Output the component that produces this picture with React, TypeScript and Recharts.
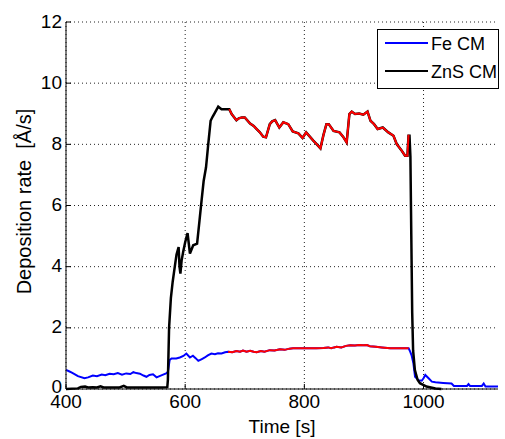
import React from "react";
import { LineChart, Line, XAxis, YAxis, CartesianGrid, Legend } from "recharts";

// Fe CM (blue) – time [s] and deposition rate [Å/s]
const feTime = [400, 405, 409, 415, 420, 431, 437, 445, 452, 460, 466, 473, 480, 487, 494, 501, 508, 513, 518, 524, 530, 535, 540, 546, 552, 557, 563, 568, 571, 574, 577, 585, 591, 597, 602, 608, 613, 618, 622, 628, 633, 638, 644, 650, 655, 661, 667, 672, 679, 686, 692, 697, 703, 709, 715, 720, 727, 733, 742, 750, 759, 767, 775, 781, 800, 820, 832, 840, 845, 850, 854, 862, 870, 877, 885, 892, 899, 905, 910, 920, 930, 944, 955, 965, 975, 977.6, 980, 983, 985.8, 991.5, 997, 1000, 1003, 1008.5, 1014, 1020, 1033, 1047, 1051, 1065, 1073, 1075.5, 1078, 1098, 1101, 1104, 1125];
const feRate = [0.62, 0.58, 0.54, 0.48, 0.42, 0.35, 0.38, 0.44, 0.42, 0.47, 0.45, 0.5, 0.48, 0.52, 0.47, 0.51, 0.49, 0.55, 0.52, 0.5, 0.44, 0.4, 0.46, 0.48, 0.38, 0.42, 0.47, 0.51, 0.56, 0.95, 1.0, 1.0, 1.03, 1.08, 1.16, 1.03, 1.09, 1.0, 0.92, 0.98, 1.03, 1.1, 1.16, 1.14, 1.17, 1.16, 1.2, 1.22, 1.2, 1.24, 1.22, 1.26, 1.22, 1.25, 1.22, 1.2, 1.24, 1.22, 1.27, 1.26, 1.3, 1.28, 1.32, 1.33, 1.33, 1.33, 1.34, 1.36, 1.33, 1.36, 1.38, 1.36, 1.41, 1.43, 1.42, 1.44, 1.43, 1.44, 1.4, 1.38, 1.36, 1.33, 1.33, 1.33, 1.33, 1.22, 1.1, 0.84, 0.4, 0.29, 0.27, 0.35, 0.46, 0.35, 0.24, 0.22, 0.2, 0.18, 0.1, 0.1, 0.1, 0.16, 0.1, 0.1, 0.18, 0.08, 0.08];
const feRedRange = [672, 975];

// ZnS CM (black)
const znsTime = [400, 420, 425, 432, 437, 445, 452, 458, 463, 480, 490, 497, 502, 540, 560, 570, 571, 573, 576, 579, 581, 584, 585.5, 589, 590.5, 592, 594, 596.6, 600, 604, 608, 613.5, 620, 624, 627.5, 631, 635, 638.7, 642.7, 646, 650, 655.5, 661, 674, 678, 686, 690, 695, 700, 709, 715, 720, 725, 731, 735.6, 742, 746, 751, 758, 764.7, 773, 780.5, 790, 797, 803, 815, 821, 827, 832, 837, 841, 849, 859, 865, 871, 875.6, 879.5, 885, 892, 899, 906, 911, 917, 923, 931.6, 941, 949.6, 955, 963.5, 969, 973, 974.8, 976.5, 978, 979.5, 981, 982.5, 985.5, 990, 994, 1005, 1020, 1030];
const znsRate = [0, 0.02, 0.07, 0.08, 0.05, 0.06, 0.05, 0.09, 0.05, 0.05, 0.05, 0.1, 0.05, 0.05, 0.05, 0.06, 0.3, 2.0, 2.97, 3.5, 3.78, 4.2, 4.4, 4.64, 4.0, 3.77, 4.2, 4.48, 4.8, 5.1, 4.43, 4.7, 4.75, 5.5, 6.16, 6.8, 7.25, 8.0, 8.77, 8.9, 9.04, 9.23, 9.15, 9.15, 8.99, 8.79, 8.85, 8.88, 8.88, 8.68, 8.6, 8.5, 8.4, 8.25, 8.23, 8.66, 8.75, 8.79, 8.55, 8.72, 8.66, 8.42, 8.36, 8.21, 8.39, 8.12, 8.0, 7.87, 8.3, 8.66, 8.66, 8.44, 8.39, 8.25, 8.06, 8.99, 9.07, 8.99, 9.01, 8.97, 9.07, 8.77, 8.66, 8.5, 8.55, 8.39, 8.28, 8.01, 7.79, 7.63, 7.63, 8.28, 8.28, 7.6, 5.0, 2.5, 1.27, 0.62, 0.3, 0.19, 0.08, 0.02, 0];
const znsRedRange = [674, 976.5];

const xTicks = [400, 600, 800, 1000];
const yTicks = [0, 2, 4, 6, 8, 10, 12];
const seriesNames = ["Fe CM", "ZnS CM"];
const seriesColors = ["#0000ff", "#000000"];

const toRows = (ts: number[], vs: number[]) => ts.map((t, i) => ({ t, v: vs[i] }));
const inRange = (rows: { t: number; v: number }[], r: number[]) => rows.filter((p) => p.t >= r[0] && p.t <= r[1]);

const feRows = toRows(feTime, feRate);
const znsRows = toRows(znsTime, znsRate);
const feRed = inRange(feRows, feRedRange);
const znsRed = inRange(znsRows, znsRedRange);

const FONT = "'Liberation Sans', Arial, Helvetica, sans-serif";

const XTick = (props: any) => {
  const { x, y, payload } = props;
  return (
    <g>
      <line x1={x} x2={x} y1={y} y2={y - 5} stroke="#000" strokeWidth={1} />
      <text x={x} y={y + 12} textAnchor="middle" dominantBaseline="central" fontSize={19} fontFamily={FONT} fill="#000">
        {payload.value}
      </text>
    </g>
  );
};

const YTick = (props: any) => {
  const { x, y, payload } = props;
  return (
    <g>
      <line x1={x} x2={x + 5} y1={y} y2={y} stroke="#000" strokeWidth={1} />
      <text x={x - 4} y={payload.value === 0 ? y - 3 : y - 1} textAnchor="end" dominantBaseline="central" fontSize={19} fontFamily={FONT} fill="#000">
        {payload.value}
      </text>
    </g>
  );
};

const YLabel = (props: any) => {
  const { viewBox } = props;
  const cy = viewBox.y + viewBox.height / 2 - 4;
  const cx = 24;
  return (
    <text x={cx} y={cy} transform={`rotate(-90 ${cx} ${cy})`} textAnchor="middle" dominantBaseline="central" fontSize={20} fontFamily={FONT} fill="#000">
      {"Deposition rate\u00a0 [Å/s]"}
    </text>
  );
};

const renderLegend = () => (
  <svg width={122} height={60} style={{ display: "block" }}>
    <rect x={0.5} y={0.5} width={121} height={59} fill="#fff" stroke="#000" strokeWidth={1} />
    {seriesNames.map((n, i) => (
      <g key={n}>
        <line x1={8} x2={51} y1={14 + i * 28} y2={14 + i * 28} stroke={seriesColors[i]} strokeWidth={2} />
        <text x={54} y={15 + i * 28} dominantBaseline="central" fontSize={18} fontFamily={FONT} fill="#000">
          {n}
        </text>
      </g>
    ))}
  </svg>
);

export default function App() {
  return (
    <div style={{ position: "absolute", left: 0, top: 0, background: "#fff" }}>
      <LineChart width={505} height={439} margin={{ top: 22, right: 7, bottom: 0, left: 0 }}>
        <CartesianGrid stroke="#222" strokeDasharray="1 3" strokeWidth={1} horizontalValues={yTicks} verticalValues={xTicks} />
        <XAxis
          type="number"
          dataKey="t"
          domain={[400, 1125]}
          ticks={xTicks}
          allowDataOverflow
          height={50}
          tickSize={0}
          tickMargin={0}
          tickLine={false}
          axisLine={{ stroke: "#000", strokeWidth: 1 }}
          tick={<XTick />}
          interval={0}
          label={{ value: "Time [s]", position: "insideBottom", offset: 6, fontSize: 19, fontFamily: FONT, fill: "#000" }}
        />
        <YAxis
          type="number"
          domain={[0, 12]}
          ticks={yTicks}
          width={66}
          tickSize={0}
          tickMargin={0}
          tickLine={false}
          axisLine={{ stroke: "#000", strokeWidth: 1 }}
          tick={<YTick />}
          interval={0}
          label={<YLabel />}
        />
        <Legend
          layout="horizontal"
          verticalAlign="middle"
          align="center"
          content={renderLegend}
          wrapperStyle={{ position: "absolute", left: 377, top: 29, width: 122, height: 60 }}
        />
        <Line data={feRows} dataKey="v" name={seriesNames[0]} stroke={seriesColors[0]} strokeWidth={2} dot={false} isAnimationActive={false} />
        <Line data={znsRows} dataKey="v" name={seriesNames[1]} stroke={seriesColors[1]} strokeWidth={2.5} dot={false} isAnimationActive={false} />
        <Line data={feRed} dataKey="v" legendType="none" stroke="#ff0000" strokeWidth={2} dot={false} isAnimationActive={false} />
        <Line data={znsRed} dataKey="v" legendType="none" stroke="#ff0000" strokeWidth={2} dot={false} isAnimationActive={false} />
      </LineChart>
    </div>
  );
}
